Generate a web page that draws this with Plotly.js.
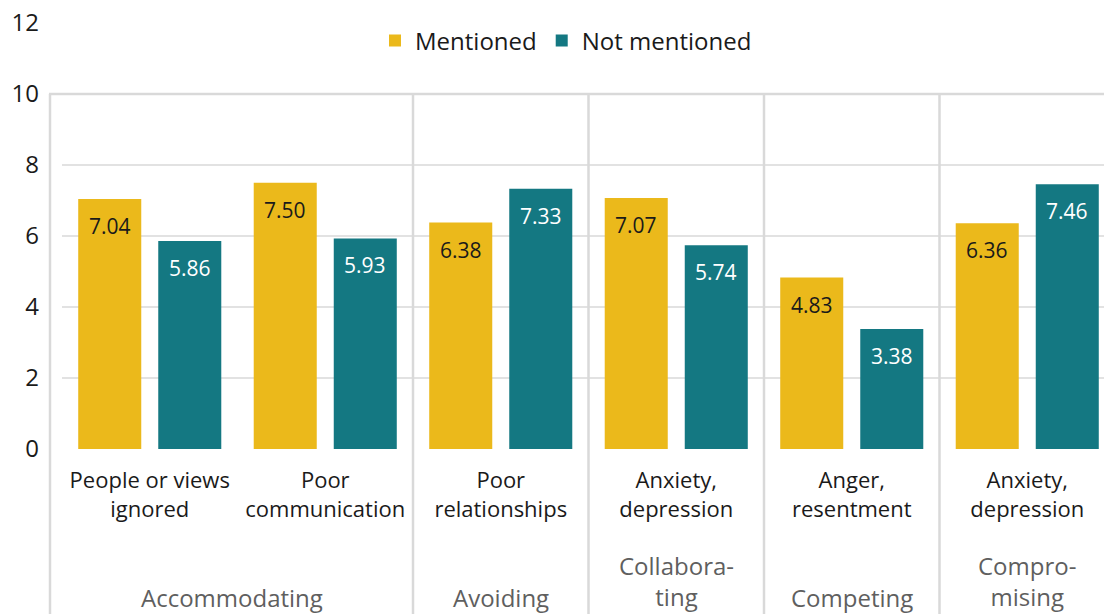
<!DOCTYPE html>
<html>
<head>
<meta charset="utf-8">
<script src="https://cdn.plot.ly/plotly-3.0.1.min.js"></script>
<style>html,body{margin:0;padding:0;background:#fff;}#chart{width:1104px;height:614px;}</style>
</head>
<body>
<div id="chart"></div>
<script>
// ---- data ----
const categories = ["People or views<br>ignored", "Poor<br>communication", "Poor<br>relationships", "Anxiety,<br>depression", "Anger,<br>resentment", "Anxiety,<br>depression"];
const styles = ["Accommodating", "Accommodating", "Avoiding", "Collabora-<br>ting", "Competing", "Compro-<br>mising"];
const mentioned = [7.04, 7.50, 6.38, 7.07, 4.83, 6.36];
const notMentioned = [5.86, 5.93, 7.33, 5.74, 3.38, 7.46];
const seriesNames = ["Mentioned", "Not mentioned"];
const yTicks = [0, 2, 4, 6, 8, 10, 12];

// ---- styling ----
const FONT = "Open Sans, Noto Sans, sans-serif";
const YELLOW = "#EBB91B";
const TEAL = "#147882";
const GRID = "#e2e2e2";
const SEP = "#d9d9d9";
const W = 1104, H = 614;
const ML = 62, MT = 23, MB = 165;
const plotW = W - ML, plotH = H - MT - MB;
const catPx = 175.5;
const xMax = plotW / catPx - 0.5;
const leftEdgePx = 50;
const leftEdgeData = (leftEdgePx - ML) / catPx - 0.5;
const frameTop = 10;
const barOffsetPx = 40;

const xIdx = categories.map((_, i) => i);

const traces = [
  {type: "bar", name: seriesNames[0], x: xIdx, y: mentioned, marker: {color: YELLOW}, hoverinfo: "skip"},
  {type: "bar", name: seriesNames[1], x: xIdx, y: notMentioned, marker: {color: TEAL}, hoverinfo: "skip"}
];

// group boundaries
const boundaries = [];
for (let i = 1; i < styles.length; i++) if (styles[i] !== styles[i - 1]) boundaries.push(i - 0.5);
const groups = [];
let start = 0;
for (let i = 1; i <= styles.length; i++) {
  if (i === styles.length || styles[i] !== styles[i - 1]) {
    groups.push({label: styles[start], from: start, to: i - 1});
    start = i;
  }
}

const pxToPaperY = py => (H - MB - py) / plotH;
const shapes = [];
boundaries.forEach(b => shapes.push({type: "line", xref: "x", yref: "paper", x0: b, x1: b,
  y0: pxToPaperY(H + 5), y1: frameTop / 12, line: {color: SEP, width: 2.5}, layer: "above"}));
shapes.push({type: "line", xref: "paper", yref: "paper", x0: (leftEdgePx - ML) / plotW, x1: (leftEdgePx - ML) / plotW,
  y0: pxToPaperY(H + 5), y1: frameTop / 12, line: {color: SEP, width: 2.5}});
shapes.push({type: "line", xref: "paper", yref: "y", x0: (leftEdgePx - ML) / plotW - 0.001, x1: 1.01,
  y0: frameTop, y1: frameTop, line: {color: SEP, width: 2.5}});

const annotations = groups.map(g => {
  const lo = g.from === 0 ? leftEdgeData : g.from - 0.5;
  const hi = g.to + 0.5;
  const nLines = g.label.split("<br>").length;
  const centerPx = 597 - (nLines - 1) * 32 / 2;
  return {xref: "x", yref: "paper", x: (lo + hi) / 2, y: pxToPaperY(centerPx),
    xanchor: "center", yanchor: "middle", text: g.label, showarrow: false,
    font: {family: FONT, size: 24, color: "#5f5f5f"}};
});

// value labels inside bar tops
[[mentioned, -barOffsetPx, "#1a1a1a"], [notMentioned, barOffsetPx, "#ffffff"]].forEach(([vals, dx, col]) => {
  vals.forEach((v, i) => annotations.push({xref: "x", yref: "y", x: i, y: v, xshift: dx, yshift: -27,
    xanchor: "center", yanchor: "middle", text: v.toFixed(2), showarrow: false,
    font: {family: FONT, size: 21, color: col}}));
});

const layout = {
  width: W, height: H,
  margin: {l: ML, r: 0, t: MT, b: MB, pad: 0},
  paper_bgcolor: "#ffffff", plot_bgcolor: "#ffffff",
  font: {family: FONT, color: "#1a1a1a"},
  barmode: "group", bargap: 0.088, bargroupgap: 0.2125,
  showlegend: true,
  legend: {orientation: "h", x: (566 - ML) / plotW, xanchor: "center", y: pxToPaperY(41), yanchor: "middle",
    font: {family: FONT, size: 24, color: "#1a1a1a"}, bgcolor: "rgba(0,0,0,0)", traceorder: "normal"},
  xaxis: {type: "linear", range: [-0.5, xMax], tickvals: xIdx, ticktext: categories,
    showgrid: false, zeroline: false, showline: false, ticks: "", fixedrange: true,
    tickfont: {family: FONT, size: 22, color: "#1a1a1a"}, ticklabelstandoff: 16},
  yaxis: {range: [0, 12], tickvals: yTicks, ticktext: yTicks.map(String),
    showgrid: true, gridcolor: GRID, gridwidth: 2, zeroline: false, showline: false, ticks: "",
    tickfont: {family: FONT, size: 24, color: "#1a1a1a"}, ticklabelstandoff: 22, fixedrange: true},
  shapes: shapes,
  annotations: annotations
};

Plotly.newPlot("chart", traces, layout, {displayModeBar: false, staticPlot: true});
</script>
</body>
</html>
